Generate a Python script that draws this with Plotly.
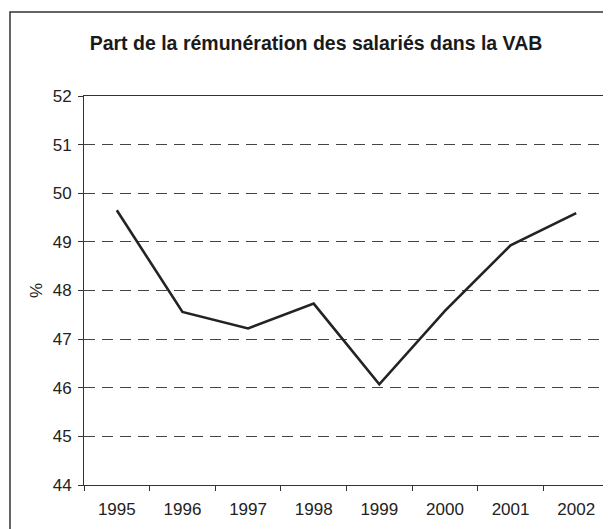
import plotly.graph_objects as go

years = ["1995", "1996", "1997", "1998", "1999", "2000", "2001", "2002"]
share = [49.65, 47.56, 47.22, 47.73, 46.07, 47.58, 48.93, 49.59]
y_ticks = [44, 45, 46, 47, 48, 49, 50, 51, 52]

# page has an 8px body margin, so the figure is sized to fit the window
W, H = 603, 521
L, R, T, B = 76, 2, 88, 44
pw, ph = W - L - R, H - T - B

fig = go.Figure()
fig.add_trace(go.Scatter(x=years, y=share, mode="lines",
                         line=dict(color="#232323", width=2.6), showlegend=False))

font_family = "Liberation Sans, Arial, sans-serif"
fig.update_layout(
    width=W, height=H,
    margin=dict(l=L, r=R, t=T, b=B),
    paper_bgcolor="white", plot_bgcolor="white",
    font=dict(family=font_family, size=17, color="#222"),
    title=dict(text="<b>Part de la rémunération des salariés dans la VAB</b>",
               xref="container", x=308 / W, xanchor="center",
               yref="container", y=1 - 35 / H, yanchor="middle",
               font=dict(size=19.5, color="#1a1a1a")),
    xaxis=dict(type="category", range=[-0.5, len(years) - 0.5],
               showgrid=False, showline=True, linecolor="#333",
               linewidth=1, mirror=True, ticks="outside", tickson="boundaries",
               ticklen=5, tickcolor="#333", tickfont=dict(size=17),
               ticklabelstandoff=9),
    yaxis=dict(range=[44, 52], tickvals=y_ticks, showgrid=True, gridcolor="#444",
               griddash="11px,7px", gridwidth=1, showline=True, linecolor="#333",
               linewidth=1, mirror=True, ticks="outside", ticklen=5, tickcolor="#333",
               tickfont=dict(size=17), zeroline=False, ticklabelstandoff=3,
               title=dict(text="%", standoff=5, font=dict(size=17))),
)

# outer chart frame
fig.add_shape(type="rect", xref="paper", yref="paper",
              x0=(2 - L) / pw, x1=(W + 5 - L) / pw,
              y0=(H - B - (H + 5)) / ph, y1=(H - B - 4) / ph,
              line=dict(color="#333", width=1.5), layer="below")

fig.write_html("out.html")
